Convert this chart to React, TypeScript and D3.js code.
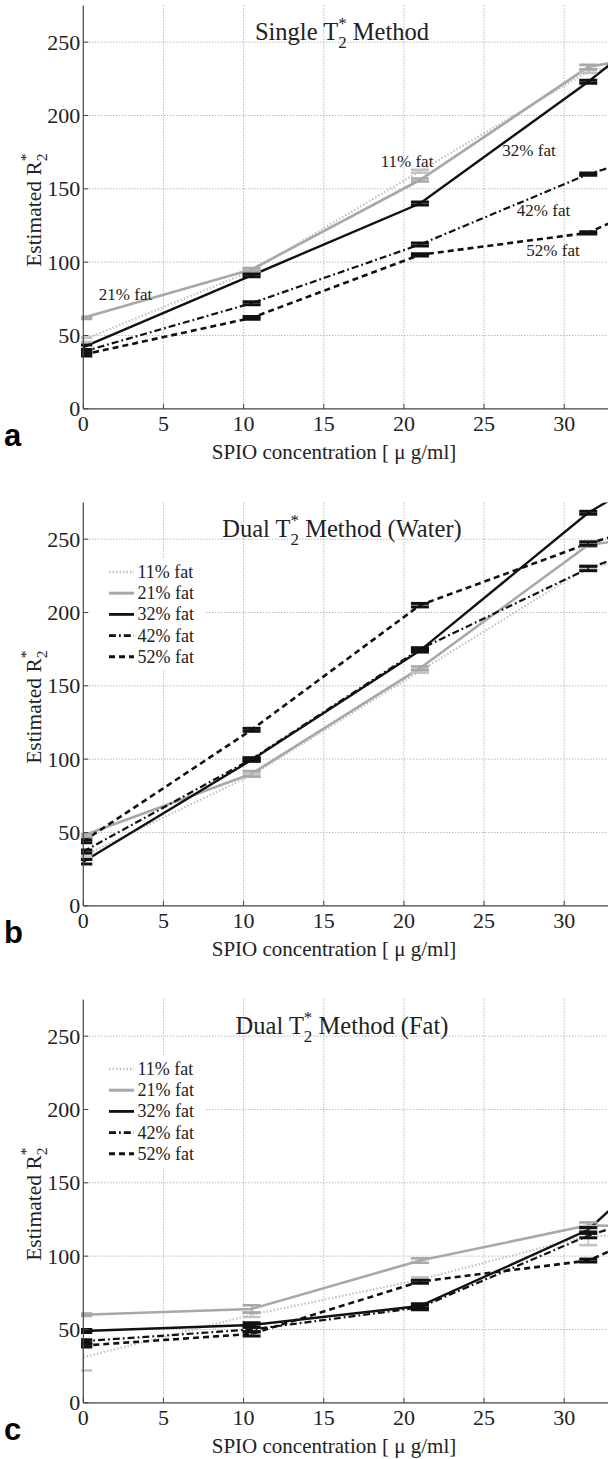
import React from "react";
import * as d3 from "d3";

// ---------- data ----------
const CONC = [0, 10.5, 21, 31.5, 42];
const FAT_LABELS = ["11% fat", "21% fat", "32% fat", "42% fat", "52% fat"];
const X_TICKS = [0, 5, 10, 15, 20, 25, 30];
const Y_TICKS = [0, 50, 100, 150, 200, 250];

// Panel a: Single T2* method
const single11 = [47, 94, 162, 230, 250];
const single21 = [62, 95, 156, 233, 255];
const single32 = [42, 91, 140, 223, 315];
const single42 = [39, 72, 112, 160, 195];
const single52 = [37, 62, 105, 120, 172];
const singleErr11 = [1.5, 1, 1, 1, 1];
const singleErr21 = [0.8, 1, 1, 1.5, 1];
const singleErr32 = [1.5, 1, 1, 1, 1];
const singleErr42 = [1, 1, 1, 0.8, 1];
const singleErr52 = [1, 1, 0.8, 0.8, 1];

// Panel b: Dual T2* method (Water)
const water11 = [34, 89, 160, 231, 247];
const water21 = [48, 90, 162, 246, 262];
const water32 = [30, 99.5, 174, 268, 335];
const water42 = [37, 100, 175, 230, 272];
const water52 = [44, 120, 205, 247, 280];
const waterErr11 = [1, 1, 1, 1, 1];
const waterErr21 = [1, 1.8, 1.2, 1.2, 1];
const waterErr32 = [1.5, 1, 1, 1, 1];
const waterErr42 = [1, 1, 1, 1.5, 1];
const waterErr52 = [1, 1, 1.2, 1.2, 1];

// Panel c: Dual T2* method (Fat)
const fat11 = [31, 60, 84, 114, 112];
const fat21 = [60, 64, 97, 121, 119];
const fat32 = [49, 53, 66, 118, 223];
const fat42 = [42, 50, 65, 114, 150];
const fat52 = [39, 47, 82.6, 97, 147];
const fatErr11 = [9, 1.5, 1.5, 6.5, 1];
const fatErr21 = [0.8, 2.5, 1.5, 2, 1];
const fatErr32 = [1, 1.5, 1.5, 1.5, 1];
const fatErr42 = [1, 1.5, 1.5, 1.5, 1];
const fatErr52 = [1, 1.5, 1, 1, 1];

// ---------- styles ----------
const SERIES_STYLE = [
  { stroke: "#c2c2c2", width: 2.2, dash: "1.5 2" },
  { stroke: "#a8a8a8", width: 2.6, dash: "" },
  { stroke: "#111111", width: 2.4, dash: "" },
  { stroke: "#111111", width: 2.2, dash: "7 3 1.8 3" },
  { stroke: "#111111", width: 2.6, dash: "6 4" },
];

const SERIF = "Liberation Serif, Times New Roman, Times, serif";
const SANS = "Liberation Sans, Arial, Helvetica, sans-serif";

const X0 = 83.3;
const PX_PER_UNIT = 16.03;
const PLOT_H = 403.3;
const Y_MAX = 275;

const panels = [
  {
    letter: "a",
    pre: "Single ",
    post: " Method",
    series: [single11, single21, single32, single42, single52],
    errs: [singleErr11, singleErr21, singleErr32, singleErr42, singleErr52],
    legend: false,
    top: 5.5,
  },
  {
    letter: "b",
    pre: "Dual ",
    post: " Method (Water)",
    series: [water11, water21, water32, water42, water52],
    errs: [waterErr11, waterErr21, waterErr32, waterErr42, waterErr52],
    legend: true,
    top: 502.5,
  },
  {
    letter: "c",
    pre: "Dual ",
    post: " Method (Fat)",
    series: [fat11, fat21, fat32, fat42, fat52],
    errs: [fatErr11, fatErr21, fatErr32, fatErr42, fatErr52],
    legend: true,
    top: 999.5,
  },
];

// inline labels of panel a (text positions)
const PANEL_A_LABELS = [
  { text: FAT_LABELS[1], x: 125.5, y: 300 },
  { text: FAT_LABELS[0], x: 407, y: 167 },
  { text: FAT_LABELS[2], x: 529, y: 156 },
  { text: FAT_LABELS[3], x: 543.5, y: 216 },
  { text: FAT_LABELS[4], x: 553, y: 256 },
];

function Panel({ p, idx }: { p: (typeof panels)[number]; idx: number }) {
  const top = p.top;
  const bottom = top + PLOT_H;
  const xs = d3.scaleLinear().domain([0, 35]).range([X0, X0 + 35 * PX_PER_UNIT]);
  const ys = d3.scaleLinear().domain([0, Y_MAX]).range([bottom, top]);
  const line = d3
    .line<number>()
    .x((_, i) => xs(CONC[i]))
    .y((d) => ys(d));
  const clipId = `clip-${idx}`;
  const gridTicksX = X_TICKS.filter((t) => t > 0);
  const gridTicksY = Y_TICKS.filter((t) => t > 0);
  const midY = (top + bottom) / 2 + 3;
  const legendTop = top + 56;
  return (
    <g>
      <defs>
        <clipPath id={clipId}>
          <rect x={81} y={top} width={540} height={PLOT_H + 3} />
        </clipPath>
      </defs>
      {gridTicksX.map((t) => (
        <line
          key={"gx" + t}
          x1={xs(t)}
          x2={xs(t)}
          y1={top}
          y2={bottom}
          stroke="#9a9a9a"
          strokeWidth={1}
          strokeDasharray="1 2"
        />
      ))}
      {gridTicksY.map((t) => (
        <line
          key={"gy" + t}
          x1={X0}
          x2={608}
          y1={ys(t)}
          y2={ys(t)}
          stroke="#9a9a9a"
          strokeWidth={1}
          strokeDasharray="1 2"
        />
      ))}
      {p.legend && <rect x={88} y={legendTop} width={117} height={112} fill="#ffffff" />}
      <g clipPath={`url(#${clipId})`}>
        {p.series.map((s, si) => {
          const st = SERIES_STYLE[si];
          return (
            <path
              key={"s" + si}
              d={line(s) || ""}
              fill="none"
              stroke={st.stroke}
              strokeWidth={st.width}
              strokeDasharray={st.dash || undefined}
            />
          );
        })}
        {p.series.map((s, si) => {
          const st = SERIES_STYLE[si];
          const capW = si >= 2 ? 3 : 2.6;
          return (
            <g key={"e" + si}>
              {s.map((v, i) => {
                const e = p.errs[si][i];
                const cx = xs(CONC[i]);
                const y1 = ys(v - e);
                const y2 = ys(v + e);
                return (
                  <g key={i}>
                    <line x1={cx} x2={cx} y1={y1} y2={y2} stroke={st.stroke} strokeWidth={1.5} />
                    <line x1={cx - 9} x2={cx + 9} y1={y1} y2={y1} stroke={st.stroke} strokeWidth={capW} />
                    <line x1={cx - 9} x2={cx + 9} y1={y2} y2={y2} stroke={st.stroke} strokeWidth={capW} />
                  </g>
                );
              })}
            </g>
          );
        })}
      </g>
      <line x1={X0} x2={X0} y1={top} y2={bottom} stroke="#444" strokeWidth={1.2} />
      <line x1={X0} x2={608} y1={bottom} y2={bottom} stroke="#444" strokeWidth={1.2} />
      {Y_TICKS.map((t) => (
        <g key={"yt" + t}>
          <line x1={X0} x2={X0 + 5} y1={ys(t)} y2={ys(t)} stroke="#444" strokeWidth={1} />
          <text x={X0 - 3} y={ys(t) + 7.5} textAnchor="end" fontFamily={SERIF} fontSize={22} fill="#222">
            {t}
          </text>
        </g>
      ))}
      {X_TICKS.map((t) => (
        <g key={"xt" + t}>
          <line x1={xs(t)} x2={xs(t)} y1={bottom} y2={bottom - 5} stroke="#444" strokeWidth={1} />
          <text x={xs(t)} y={bottom + 22} textAnchor="middle" fontFamily={SERIF} fontSize={22} fill="#222">
            {t}
          </text>
        </g>
      ))}
      <text x={342} y={top + 34.5} textAnchor="middle" fontFamily={SERIF} fontSize={24.5} fill="#222">
        {p.pre}T
        <tspan dy={7.5} fontSize={17}>
          2
        </tspan>
        <tspan dx={-8.5} dy={-19} fontSize={17}>
          *
        </tspan>
        <tspan dy={11.5}>{p.post}</tspan>
      </text>
      <text
        transform={`translate(41,${midY}) rotate(-90)`}
        textAnchor="middle"
        fontFamily={SERIF}
        fontSize={21.5}
        fill="#222"
      >
        Estimated R
        <tspan dy={6} fontSize={15.5}>
          2
        </tspan>
        <tspan dx={-7.8} dy={-16.5} fontSize={15.5}>
          *
        </tspan>
        <tspan dy={10.5}> </tspan>
      </text>
      <text x={334} y={bottom + 50} textAnchor="middle" fontFamily={SERIF} fontSize={21} fill="#222">
        SPIO concentration [ μ g/ml]
      </text>
      <text x={4} y={bottom + 37} fontFamily={SANS} fontWeight="bold" fontSize={31} fill="#000">
        {p.letter}
      </text>
      {p.legend &&
        FAT_LABELS.map((lab, i) => {
          const st = SERIES_STYLE[i];
          const ry = top + 69.5 + 21.2 * i;
          return (
            <g key={"lg" + i}>
              <line
                x1={109}
                x2={134}
                y1={ry}
                y2={ry}
                stroke={st.stroke}
                strokeWidth={st.width + 0.4}
                strokeDasharray={st.dash || undefined}
              />
              <text x={137.5} y={ry + 6} fontFamily={SERIF} fontSize={18} fill="#222">
                {lab}
              </text>
            </g>
          );
        })}
      {!p.legend &&
        PANEL_A_LABELS.map((l) => (
          <text key={l.text} x={l.x} y={l.y} textAnchor="middle" fontFamily={SERIF} fontSize={17} fill="#222">
            {l.text}
          </text>
        ))}
    </g>
  );
}

export default function App() {
  return (
    <svg
      width={608}
      height={1459}
      viewBox="0 0 608 1459"
      style={{ position: "absolute", left: 0, top: 0, background: "#fff" }}
    >
      <rect x={0} y={0} width={608} height={1459} fill="#ffffff" />
      {panels.map((p, i) => (
        <Panel key={p.letter} p={p} idx={i} />
      ))}
    </svg>
  );
}
